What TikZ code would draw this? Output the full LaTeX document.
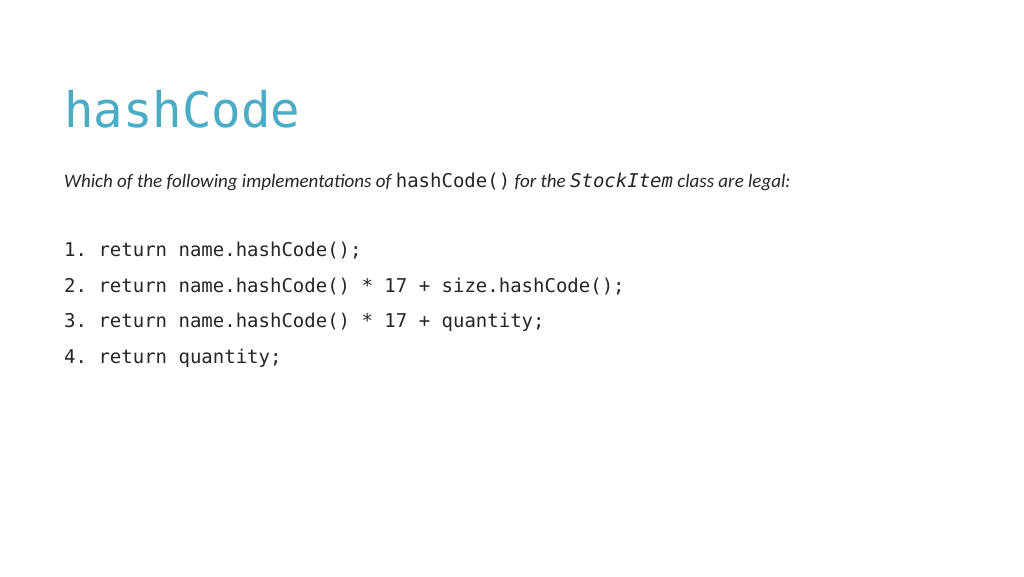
\documentclass[tikz,border=0pt]{standalone}
\usepackage{fontspec}
\setmainfont{Carlito}
\setmonofont{DejaVu Sans Mono}
\definecolor{titleteal}{RGB}{75,172,198}
\definecolor{textgray}{RGB}{38,38,38}
\tikzset{
  slidetext/.style={anchor=base west,inner sep=0pt,text=textgray},
  codeline/.style={slidetext,font=\fontsize{19}{22}\selectfont\ttfamily}
}
\begin{document}
\begin{tikzpicture}[x=1pt,y=-1pt]
\useasboundingbox[fill=white] (0,0) rectangle (1024,576);
% title
\node[slidetext,text=titleteal,font=\fontsize{49}{56}\selectfont\ttfamily] (title) at (64,127) {hashCode};
% question
\node[slidetext,font=\fontsize{19}{22}\selectfont\itshape] (question) at (64,187)
  {Which of the following implementations of \texttt{\upshape hashCode()} for the \texttt{StockItem} class are legal:};
% answers
\node[codeline] (opt1) at (64,256) {1. return name.hashCode();};
\node[codeline] (opt2) at (64,292) {2. return name.hashCode() * 17 + size.hashCode();};
\node[codeline] (opt3) at (64,327) {3. return name.hashCode() * 17 + quantity;};
\node[codeline] (opt4) at (64,363) {4. return quantity;};
\end{tikzpicture}
\end{document}
